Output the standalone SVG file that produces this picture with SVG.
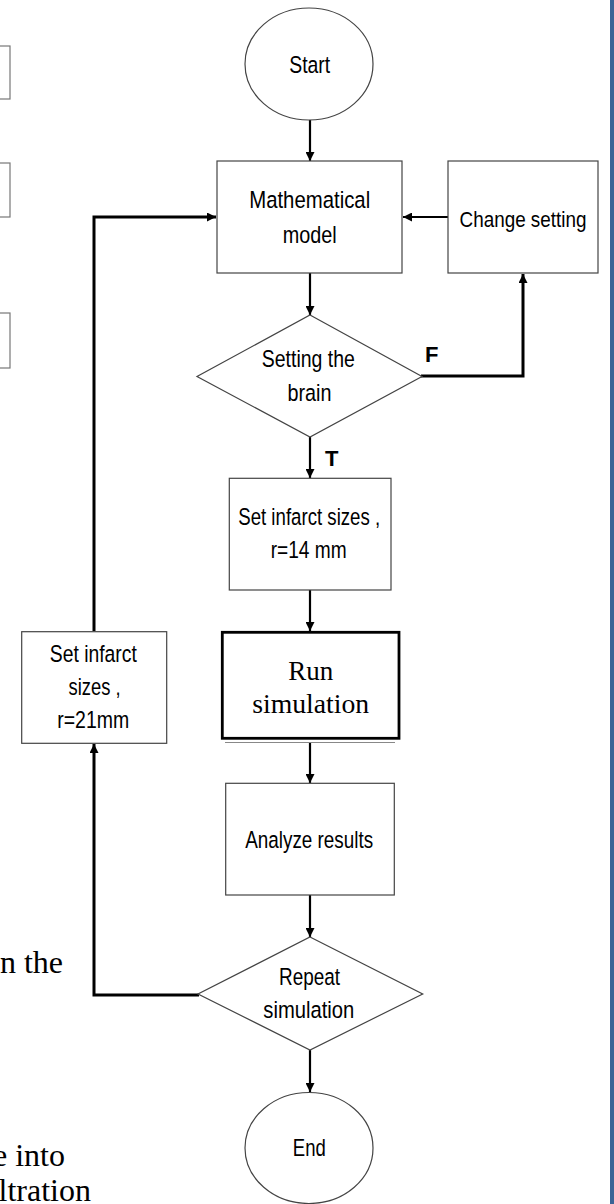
<svg xmlns="http://www.w3.org/2000/svg" width="614" height="1204" viewBox="0 0 614 1204">
<style>
.node{fill:#fff;stroke:#444;stroke-width:1.2}
.run{fill:#fff;stroke:#000;stroke-width:2.8}
.lbl{font-family:"Liberation Sans",Arial,sans-serif;font-size:24.5px;fill:#000;text-anchor:middle}
.ser{font-family:"Liberation Serif","Times New Roman",serif;font-size:27px;fill:#000;text-anchor:middle}
.bg{font-family:"Liberation Serif","Times New Roman",serif;font-size:32px;fill:#000;text-anchor:end}
.tf{font-family:"Liberation Sans",Arial,sans-serif;font-size:22px;font-weight:bold;fill:#000}
.c{fill:none;stroke:#000;stroke-width:2.2}
.ct{fill:none;stroke:#000;stroke-width:3}
.side{fill:#fff;stroke:#777;stroke-width:1.2}
</style>
<defs>
<marker id="ah" viewBox="0 0 10 10" refX="10" refY="5" markerWidth="10" markerHeight="9" markerUnits="userSpaceOnUse" orient="auto">
<path d="M0,0 L10,5 L0,10 z" fill="#000"/>
</marker>
</defs>
<rect width="614" height="1204" fill="#fff"/>
<g id="background">
<rect class="side" x="-5" y="46" width="15" height="53"/>
<rect class="side" x="-5" y="163" width="15" height="54"/>
<rect class="side" x="-5" y="313" width="15" height="55"/>
<text class="bg" x="63" y="973">n the</text>
<text class="bg" x="65" y="1166">e into</text>
<text class="bg" x="91" y="1201">ltration</text>
<rect x="610" y="0" width="4" height="1204" fill="#3c6496"/>
</g>
<g id="connectors">
<line class="c" x1="310" y1="120" x2="310" y2="161" marker-end="url(#ah)"/>
<line class="c" x1="448" y1="217" x2="403" y2="217" marker-end="url(#ah)"/>
<line class="c" x1="310" y1="273" x2="310" y2="315" marker-end="url(#ah)"/>
<polyline class="ct" points="421,376 523,376 523,274" marker-end="url(#ah)"/>
<line class="c" x1="310" y1="437" x2="310" y2="478" marker-end="url(#ah)"/>
<line class="c" x1="310" y1="590" x2="310" y2="631" marker-end="url(#ah)"/>
<line class="c" x1="310" y1="743" x2="310" y2="783" marker-end="url(#ah)"/>
<line class="c" x1="310" y1="895" x2="310" y2="937" marker-end="url(#ah)"/>
<line class="c" x1="310" y1="1050" x2="310" y2="1092" marker-end="url(#ah)"/>
<polyline class="ct" points="199,995 94,995 94,744" marker-end="url(#ah)"/>
<polyline class="ct" points="94,631 94,217 216,217" marker-end="url(#ah)"/>
<text class="tf" x="425" y="362">F</text>
<text class="tf" x="325" y="466">T</text>
</g>
<g id="start">
<ellipse class="node" cx="309" cy="64" rx="64" ry="56"/>
<text class="lbl" x="309.7" y="72.7" textLength="41" lengthAdjust="spacingAndGlyphs">Start</text>
</g>
<g id="math-model">
<rect class="node" x="217" y="161" width="185" height="112"/>
<text class="lbl" x="309.7" y="208" textLength="121" lengthAdjust="spacingAndGlyphs">Mathematical</text>
<text class="lbl" x="309.7" y="243" textLength="54" lengthAdjust="spacingAndGlyphs">model</text>
</g>
<g id="change-setting">
<rect class="node" x="448" y="161" width="150" height="112"/>
<text class="lbl" x="523" y="227" style="font-size:21.5px" textLength="127" lengthAdjust="spacingAndGlyphs">Change setting</text>
</g>
<g id="setting-brain">
<polygon class="node" points="310,315 422,376.5 310,437 197,376.5"/>
<text class="lbl" x="308.3" y="367" textLength="93" lengthAdjust="spacingAndGlyphs">Setting the</text>
<text class="lbl" x="309.5" y="400.7" textLength="44" lengthAdjust="spacingAndGlyphs">brain</text>
</g>
<g id="infarct-14">
<rect class="node" x="229.3" y="478.3" width="161.7" height="111.7"/>
<text class="lbl" x="309.2" y="525" textLength="142" lengthAdjust="spacingAndGlyphs">Set infarct sizes ,</text>
<text class="lbl" x="308.7" y="557.7" textLength="76" lengthAdjust="spacingAndGlyphs">r=14 mm</text>
</g>
<g id="run-simulation">
<line x1="225" y1="742.5" x2="395" y2="742.5" stroke="#888" stroke-width="1.2"/>
<rect class="run" x="222.3" y="632.3" width="176.7" height="106"/>
<text class="ser" x="310.8" y="680" textLength="45" lengthAdjust="spacingAndGlyphs">Run</text>
<text class="ser" x="310.7" y="712.7" textLength="117" lengthAdjust="spacingAndGlyphs">simulation</text>
</g>
<g id="analyze">
<rect class="node" x="225.7" y="783.3" width="168.6" height="111.7"/>
<text class="lbl" x="309.2" y="848" textLength="128" lengthAdjust="spacingAndGlyphs">Analyze results</text>
</g>
<g id="repeat">
<polygon class="node" points="310,937 422.7,994 310,1050 198,994"/>
<text class="lbl" x="309.5" y="985" textLength="61" lengthAdjust="spacingAndGlyphs">Repeat</text>
<text class="lbl" x="308.8" y="1018" textLength="91" lengthAdjust="spacingAndGlyphs">simulation</text>
</g>
<g id="end">
<ellipse class="node" cx="309" cy="1148" rx="64" ry="55.5"/>
<text class="lbl" x="309.3" y="1156" textLength="33" lengthAdjust="spacingAndGlyphs">End</text>
</g>
<g id="infarct-21">
<rect class="node" x="21.7" y="631.7" width="145" height="111.6"/>
<text class="lbl" x="93.3" y="661.7" textLength="87" lengthAdjust="spacingAndGlyphs">Set infarct</text>
<text class="lbl" x="94.5" y="695" textLength="52" lengthAdjust="spacingAndGlyphs">sizes ,</text>
<text class="lbl" x="93.2" y="728.3" textLength="72" lengthAdjust="spacingAndGlyphs">r=21mm</text>
</g>
</svg>
